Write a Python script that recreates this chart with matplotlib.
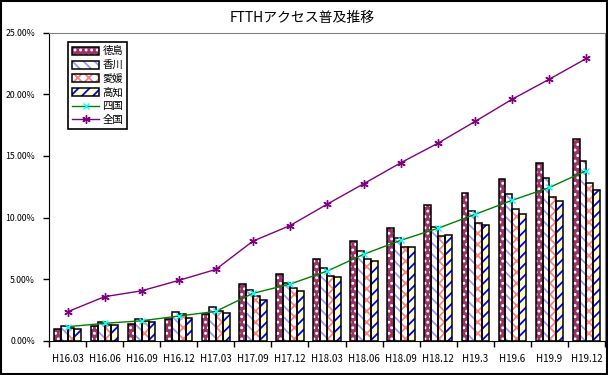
import matplotlib.pyplot as plt
import numpy as np
from matplotlib.patches import Patch, Rectangle
from matplotlib.legend_handler import HandlerTuple
from matplotlib.ticker import FuncFormatter, MultipleLocator

plt.rcParams['font.family'] = ['Noto Sans CJK JP', 'DejaVu Sans']
plt.rcParams['hatch.linewidth'] = 1.3

periods = ["H16.03", "H16.06", "H16.09", "H16.12", "H17.03", "H17.09", "H17.12",
           "H18.03", "H18.06", "H18.09", "H18.12", "H19.3", "H19.6", "H19.9", "H19.12"]

# values in percent
tokushima = [0.95, 1.21, 1.35, 1.78, 2.18, 4.61, 5.39, 6.63, 8.07, 9.12, 11.0, 12.03, 13.16, 14.46, 16.4]
kagawa = [1.21, 1.54, 1.75, 2.35, 2.72, 4.10, 4.66, 5.90, 7.26, 8.31, 9.25, 10.52, 11.95, 13.24, 14.62]
ehime = [1.03, 1.27, 1.62, 2.16, 2.43, 3.64, 4.26, 5.26, 6.63, 7.58, 8.50, 9.60, 10.66, 11.63, 12.84]
kochi = [1.00, 1.27, 1.54, 1.83, 2.27, 3.32, 4.05, 5.15, 6.45, 7.58, 8.55, 9.36, 10.33, 11.33, 12.27]
shikoku = [1.16, 1.43, 1.64, 2.02, 2.40, 3.86, 4.61, 5.66, 7.04, 8.17, 9.14, 10.27, 11.41, 12.44, 13.81]
zenkoku = [2.37, 3.59, 4.07, 4.91, 5.80, 8.09, 9.35, 11.08, 12.76, 14.46, 16.04, 17.80, 19.60, 21.22, 22.90]

fig = plt.figure(figsize=(6.08, 3.75), dpi=100)
ax = fig.add_axes([49/608, 1-341/375, 556/608, 308.5/375])

x = np.arange(len(periods))
w = 0.185
bars = [
    (tokushima, "徳島", "#993366", "...", "white"),
    (kagawa, "香川", "white", "\\\\\\", "#9999FF"),
    (ehime, "愛媛", "white", "xxx", "#FF8080"),
    (kochi, "高知", "#FFFFCC", "///", "#0000FF"),
]
handles = []
for i, (vals, name, fc, hatch, hc) in enumerate(bars):
    pos = x + (i - 1.5) * w
    ax.bar(pos, vals, w, color=fc, edgecolor=hc, hatch=hatch, linewidth=0, zorder=2)
    ax.bar(pos, vals, w, facecolor="none", edgecolor="black", linewidth=1.1, zorder=3)
    h1 = Patch(facecolor=fc, edgecolor=hc, hatch=hatch, linewidth=0)
    h2 = Patch(facecolor="none", edgecolor="black", linewidth=1.1)
    handles.append(((h1, h2), name))

l1, = ax.plot(x, shikoku, color="#008000", lw=1, marker="x", ms=5,
              mec="#00FFFF", mew=1, zorder=4)
l2, = ax.plot(x, zenkoku, color="#800080", lw=1, marker=(6, 2, 0), ms=6,
              mec="#800080", mew=1, zorder=4)
handles.append((l1, "四国"))
handles.append((l2, "全国"))

ax.set_xlim(-0.5, len(periods) - 0.5)
ax.set_ylim(0, 25)
ax.yaxis.set_major_locator(MultipleLocator(5))
ax.yaxis.set_major_formatter(FuncFormatter(lambda v, p: "%.2f%%" % v))
ax.set_xticks(x)
ax.set_xticklabels(periods)
ax.set_xticks(np.arange(-0.5, len(periods)), minor=True)
ax.tick_params(axis="x", which="major", length=0, pad=9, labelsize=7)
ax.tick_params(axis="x", which="minor", length=4, width=1, direction="out")
ax.tick_params(axis="y", length=4, width=1, direction="out", pad=6, labelsize=6.3)

for s in ["top", "right"]:
    ax.spines[s].set_color("#808080")
for s in ["left", "bottom"]:
    ax.spines[s].set_color("black")

leg = ax.legend([h for h, n in handles], [n for h, n in handles],
                handler_map={tuple: HandlerTuple(ndivide=1)},
                loc="upper left", bbox_to_anchor=(0.034, 0.969), borderaxespad=0,
                fancybox=False, framealpha=1, edgecolor="black", fontsize=7.5,
                handlelength=2.6, handleheight=0.8, labelspacing=0.35,
                borderpad=0.4, handletextpad=0.3)
leg.get_frame().set_linewidth(1.2)

fig.text(0.497, 0.953, "FTTHアクセス普及推移", ha="center", va="center", fontsize=10)
fig.patches.append(Rectangle((0.001, 0.002), 0.997, 0.996, transform=fig.transFigure,
                             fill=False, edgecolor="black", linewidth=1.5))

fig.savefig("out.png", dpi=100)
